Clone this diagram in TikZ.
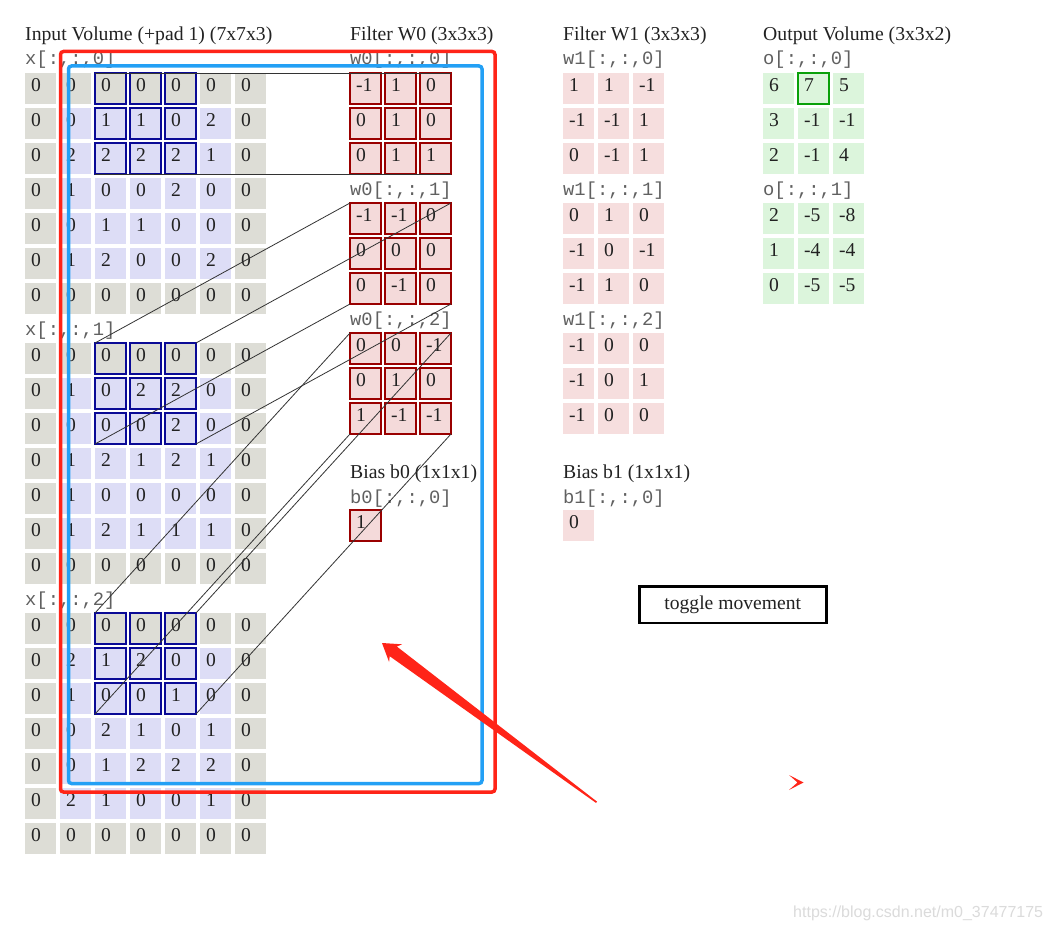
\documentclass[tikz,border=0pt]{standalone}
\usepackage{fontspec}
\setmainfont{Liberation Serif}
\setmonofont{Liberation Mono}
\newfontfamily\wmfont{Liberation Sans}
\definecolor{padc}{HTML}{DDDDD6}
\definecolor{innc}{HTML}{DDDDF6}
\definecolor{filc}{HTML}{F4DADA}
\definecolor{wonec}{HTML}{F6DEDE}
\definecolor{outc}{HTML}{DCF5DC}
\definecolor{filb}{HTML}{9A0000}
\definecolor{hlb}{HTML}{0A0A96}
\definecolor{hlg}{HTML}{0AA00A}
\definecolor{annred}{HTML}{FF2418}
\definecolor{annblue}{HTML}{23A0F5}
\definecolor{linec}{HTML}{333333}
\definecolor{txtc}{HTML}{222222}
\definecolor{monoc}{HTML}{606060}
\tikzset{
  cellbase/.style={anchor=north west, minimum width=31pt, minimum height=31pt,
    inner ysep=0pt, inner xsep=6pt, outer sep=0pt, text width=19pt, align=left,
    text height=13pt, text depth=6.5pt, text=txtc,
    font=\fontsize{19.6}{20}\selectfont},
  icell/.style={cellbase},
  fcell/.style={cellbase, fill=filc, draw=filb, line width=2pt},
  wcell/.style={cellbase, fill=wonec},
  ocell/.style={cellbase, fill=outc},
  ttl/.style={anchor=base west, inner sep=0pt, text=txtc, font=\fontsize{19.7}{20}\selectfont},
  lbl/.style={anchor=base west, inner sep=0pt, text=monoc, font=\ttfamily\fontsize{18.8}{20}\selectfont},
  hlbox/.style={draw=hlb, line width=2pt},
  conn/.style={draw=linec, line width=0.8pt},
}
\newcommand\igrid[4]{%
  \foreach \rowlist [count=\ri from 0] in {#4} {
    \foreach \v [count=\ci from 0] in \rowlist {
      \pgfmathtruncatemacro\ispadcell{(\ri==0)||(\ri==6)||(\ci==0)||(\ci==6)}
      \ifnum\ispadcell=1 \def\cellcol{padc}\else\def\cellcol{innc}\fi
      \node[icell, fill=\cellcol] (#1-\ri-\ci) at ({#2+35*\ci},{#3+35*\ri}) {\v};
    }
  }
}
\newcommand\cgrid[5]{%
  \foreach \rowlist [count=\ri from 0] in {#5} {
    \foreach \v [count=\ci from 0] in \rowlist {
      \node[#4] (#1-\ri-\ci) at ({#2+35*\ci},{#3+35*\ri}) {\v};
    }
  }
}
\begin{document}
\begin{tikzpicture}[x=1pt,y=-1pt]
\fill[white] (0,0) rectangle (1050,931);
\path[use as bounding box] (0,0) rectangle (1050,931);

% titles and labels
\node[ttl] (tin) at (25,41) {Input Volume (+pad 1) (7x7x3)};
\node[ttl] (tw0) at (350,41) {Filter W0 (3x3x3)};
\node[ttl] (tw1) at (563,41) {Filter W1 (3x3x3)};
\node[ttl] (tout) at (763,41) {Output Volume (3x3x2)};
\node[lbl] (lx0) at (25,65) {x[:,:,0]};
\node[lbl] (lx1) at (25,335) {x[:,:,1]};
\node[lbl] (lx2) at (25,605) {x[:,:,2]};
\node[lbl] (lw0a) at (350,65) {w0[:,:,0]};
\node[lbl] (lw0b) at (350,195) {w0[:,:,1]};
\node[lbl] (lw0c) at (350,325) {w0[:,:,2]};
\node[lbl] (lw1a) at (563,65) {w1[:,:,0]};
\node[lbl] (lw1b) at (563,195) {w1[:,:,1]};
\node[lbl] (lw1c) at (563,325) {w1[:,:,2]};
\node[lbl] (loa) at (763,65) {o[:,:,0]};
\node[lbl] (lob) at (763,195) {o[:,:,1]};
\node[ttl] (tb0) at (350,478) {Bias b0 (1x1x1)};
\node[lbl] (lb0) at (350,503) {b0[:,:,0]};
\node[ttl] (tb1) at (563,478) {Bias b1 (1x1x1)};
\node[lbl] (lb1) at (563,503) {b1[:,:,0]};

% input volume
\igrid{x0}{25}{73}{{0,0,0,0,0,0,0},{0,0,1,1,0,2,0},{0,2,2,2,2,1,0},{0,1,0,0,2,0,0},{0,0,1,1,0,0,0},{0,1,2,0,0,2,0},{0,0,0,0,0,0,0}}
\igrid{x1}{25}{343}{{0,0,0,0,0,0,0},{0,1,0,2,2,0,0},{0,0,0,0,2,0,0},{0,1,2,1,2,1,0},{0,1,0,0,0,0,0},{0,1,2,1,1,1,0},{0,0,0,0,0,0,0}}
\igrid{x2}{25}{613}{{0,0,0,0,0,0,0},{0,2,1,2,0,0,0},{0,1,0,0,1,0,0},{0,0,2,1,0,1,0},{0,0,1,2,2,2,0},{0,2,1,0,0,1,0},{0,0,0,0,0,0,0}}

% filter W0
\cgrid{w0a}{350}{73}{fcell}{{-1,1,0},{0,1,0},{0,1,1}}
\cgrid{w0b}{350}{203}{fcell}{{-1,-1,0},{0,0,0},{0,-1,0}}
\cgrid{w0c}{350}{333}{fcell}{{0,0,-1},{0,1,0},{1,-1,-1}}
\cgrid{b0}{350}{510}{fcell}{{1}}

% filter W1
\cgrid{w1a}{563}{73}{wcell}{{1,1,-1},{-1,-1,1},{0,-1,1}}
\cgrid{w1b}{563}{203}{wcell}{{0,1,0},{-1,0,-1},{-1,1,0}}
\cgrid{w1c}{563}{333}{wcell}{{-1,0,0},{-1,0,1},{-1,0,0}}
\cgrid{b1}{563}{510}{wcell}{{0}}

% output
\cgrid{oa}{763}{73}{ocell}{{6,7,5},{3,-1,-1},{2,-1,4}}
\cgrid{ob}{763}{203}{ocell}{{2,-5,-8},{1,-4,-4},{0,-5,-5}}

% highlights
\foreach \blk in {x0,x1,x2}
  \foreach \r in {0,1,2}
    \foreach \c in {2,3,4}
      \draw[hlbox] (\blk-\r-\c.north west) rectangle (\blk-\r-\c.south east);
\draw[draw=hlg, line width=2pt] (oa-0-1.north west) rectangle (oa-0-1.south east);

% connectors
\foreach \blk/\fil in {x0/w0a, x1/w0b, x2/w0c} {
  \draw[conn] (\blk-0-2.north west) -- (\fil-0-0.north west);
  \draw[conn] (\blk-0-4.north east) -- (\fil-0-2.north east);
  \draw[conn] (\blk-2-2.south west) -- (\fil-2-0.south west);
  \draw[conn] (\blk-2-4.south east) -- (\fil-2-2.south east);
}

% toggle button
\node[draw=black, line width=2.5pt, anchor=north west, minimum width=187pt,
  minimum height=36.5pt, inner sep=0pt, text=txtc, font=\fontsize{19.6}{20}\selectfont]
  (toggle) at (638,585.3) {toggle movement};

% annotations
\draw[annred, line width=3.5pt, rounded corners=3pt] (60.5,51.5) rectangle (495,792);
\draw[annblue, line width=3.5pt, rounded corners=3pt] (68.5,66) rectangle (482,783.5);
\fill[annred] (382,643) -- (402.2,644.3) -- (396.8,646.5) -- (597,801.6)
  -- (596,802.9) -- (389.7,656.2) -- (389.1,662) -- cycle;
\fill[annred] (789,775) -- (803.5,782.5) -- (789,790) -- (797.5,782.5) -- cycle;

% watermark
\node[anchor=base west, inner sep=0pt, text=black!14, font=\wmfont\fontsize{16}{18}\selectfont]
  (wm) at (793,917) {https://blog.csdn.net/m0\_37477175};
\end{tikzpicture}
\end{document}
